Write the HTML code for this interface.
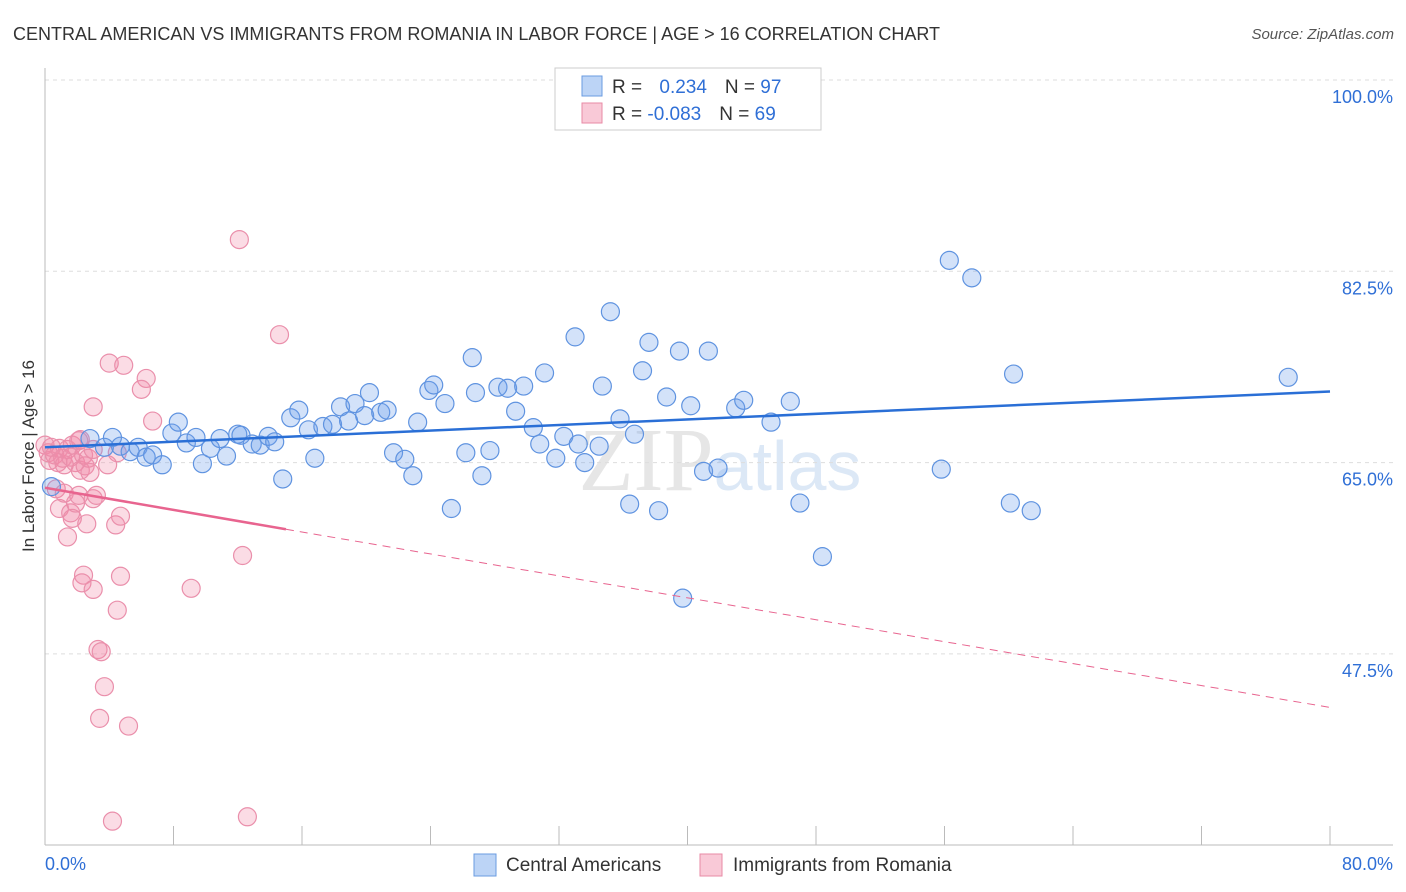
<!DOCTYPE html>
<html><head><meta charset="utf-8"><style>
body{margin:0;background:#fff;font-family:"Liberation Sans",sans-serif}
</style></head><body>
<svg id="c" width="1406" height="892" xmlns="http://www.w3.org/2000/svg" style="display:block">
<text x="13" y="40" font-size="18" fill="#333">CENTRAL AMERICAN VS IMMIGRANTS FROM ROMANIA IN LABOR FORCE | AGE &gt; 16 CORRELATION CHART</text>
<text x="1394" y="39" font-size="15" fill="#555" text-anchor="end" font-style="italic">Source: ZipAtlas.com</text>
<text x="720" y="490" font-size="90" fill="#e6e6e6" text-anchor="middle" font-family="Liberation Serif">ZIP<tspan fill="#dce8f6" font-family="Liberation Sans" font-size="70">atlas</tspan></text>
<text transform="translate(34,456) rotate(-90)" font-size="17" fill="#333" text-anchor="middle">In Labor Force | Age &gt; 16</text>
<g id="grid"></g><g id="pts"></g><g id="lines"></g>
<g>
<rect x="555" y="68" width="266" height="62" fill="#fff" stroke="#ccc"/>
<rect x="582" y="76" width="20" height="20" fill="#bcd4f6" stroke="#6a9be0"/>
<rect x="582" y="103" width="20" height="20" fill="#f9c9d7" stroke="#e88aa5"/>
<text x="612" y="93" font-size="19" fill="#333">R = <tspan fill="#2f6fd6" dx="12">0.234</tspan><tspan dx="18">N = </tspan><tspan fill="#2f6fd6">97</tspan></text>
<text x="612" y="120" font-size="19" fill="#333">R = <tspan fill="#2f6fd6">-0.083</tspan><tspan dx="18">N = </tspan><tspan fill="#2f6fd6">69</tspan></text>
</g>
<g>
<rect x="474" y="854" width="22" height="22" fill="#bcd4f6" stroke="#6a9be0"/>
<text x="506" y="871" font-size="19" fill="#333">Central Americans</text>
<rect x="700" y="854" width="22" height="22" fill="#f9c9d7" stroke="#e88aa5"/>
<text x="733" y="871" font-size="19" fill="#333">Immigrants from Romania</text>
</g>
<text x="45" y="870" font-size="18" fill="#2f6fd6">0.0%</text>
<text x="1393" y="870" font-size="18" fill="#2f6fd6" text-anchor="end">80.0%</text>
</svg>
<script>
const yTicks=[100,82.5,65,47.5];
const blueX=[0.4,2.8,4.2,3.7,4.7,5.3,5.8,6.3,6.7,7.3,7.9,8.3,8.8,9.4,9.8,10.3,10.9,11.3,12.0,12.2,12.9,13.4,13.9,14.3,14.8,15.3,15.8,16.4,16.8,17.3,17.9,18.4,18.9,19.3,19.9,20.2,20.9,21.3,21.7,22.4,22.9,23.2,23.9,24.2,24.9,25.3,26.2,26.6,26.8,27.2,27.7,28.2,28.8,29.3,29.8,30.4,30.8,31.1,31.8,32.3,33.0,33.2,33.6,34.5,34.7,35.2,35.8,36.4,36.7,37.2,37.6,38.2,38.7,39.5,39.7,40.2,41.0,41.3,41.9,43.0,43.5,45.2,46.4,47.0,48.4,56.3,55.8,57.7,60.1,60.3,61.4,77.4];
const blueY=[62.8,67.2,67.3,66.4,66.5,66.0,66.4,65.5,65.7,64.8,67.7,68.7,66.8,67.3,64.9,66.3,67.2,65.6,67.6,67.5,66.7,66.6,67.4,66.9,63.5,69.1,69.8,68.0,65.4,68.3,68.5,70.1,68.8,70.4,69.3,71.4,69.6,69.8,65.9,65.3,63.8,68.7,71.6,72.1,70.4,60.8,65.9,74.6,71.4,63.8,66.1,71.9,71.8,69.7,72.0,68.2,66.7,73.2,65.4,67.4,76.5,66.7,65.0,66.5,72.0,78.8,69.0,61.2,67.6,73.4,76.0,60.6,71.0,75.2,52.6,70.2,64.2,75.2,64.5,70.0,70.7,68.7,70.6,61.3,56.4,83.5,64.4,81.9,61.3,73.1,60.6,72.8];
const pinkX=[0.0,0.2,0.3,0.4,0.6,0.8,0.9,1.1,1.2,1.4,1.6,1.7,1.9,2.1,2.2,2.4,2.5,2.7,2.8,3.0,0.7,0.9,1.2,1.6,1.7,1.9,1.4,2.1,2.2,2.6,3.0,3.2,3.9,4.4,4.5,4.7,4.0,4.9,3.0,6.3,6.0,6.7,2.4,2.3,3.0,4.7,4.5,3.3,3.5,3.7,3.4,5.2,4.2,12.6,9.1,12.3,12.1,14.6];
const pinkY=[66.6,65.9,65.2,66.4,65.7,65.0,66.3,65.4,64.8,66.2,65.5,66.6,65.0,67.0,64.3,65.7,64.7,65.4,64.1,66.2,62.6,60.8,62.2,60.4,59.9,61.3,58.2,62.0,67.1,59.4,61.7,62.0,64.8,59.3,65.9,60.1,74.1,73.9,70.1,72.7,71.7,68.8,54.7,54.0,53.4,54.6,51.5,47.9,47.7,44.5,41.6,40.9,32.2,32.6,53.5,56.5,85.4,76.7];
const blueLine=[[0,66.4],[80,71.5]];
const pinkLine=[[0,62.7],[15,58.9],[80,42.6]];
const X0=45,X1=1330,Y100=80,PPU=191.3/17.5;
const xs=v=>X0+(v/80)*(X1-X0);
const ys=v=>Y100+(100-v)*PPU;
const NS="http://www.w3.org/2000/svg";
function mk(tag,attrs,parent){const e=document.createElementNS(NS,tag);for(const k in attrs)e.setAttribute(k,attrs[k]);parent.appendChild(e);return e;}
const grid=document.getElementById('grid');
yTicks.forEach(t=>{
 const l=mk('line',{x1:X0,x2:1393,y1:ys(t),y2:ys(t),stroke:'#ddd','stroke-dasharray':'4,4'},grid);
 
 
 const tx=mk('text',{x:1393,y:ys(t)+23,'font-size':18,fill:'#2f6fd6','text-anchor':'end'},grid);
 tx.textContent=t.toFixed(1)+'%';
 
 
});
const ax=mk('line',{x1:X0,x2:X0,y1:68,y2:845,stroke:'#bbb'},grid);


const bx=mk('line',{x1:X0,x2:1393,y1:845,y2:845,stroke:'#bbb'},grid);


for(let i=0;i<=10;i++){const t=mk('line',{x1:xs(i*8),x2:xs(i*8),y1:826,y2:845,stroke:'#bbb'},grid);
 
 }
const pts=document.getElementById('pts');
pinkX.forEach((v,i)=>{const c=mk('circle',{cx:xs(v),cy:ys(pinkY[i]),r:9,fill:'rgba(242,140,170,0.3)',stroke:'#ea8fab','stroke-width':1.2},pts);
 
 });
blueX.forEach((v,i)=>{const c=mk('circle',{cx:xs(v),cy:ys(blueY[i]),r:9,fill:'rgba(110,160,235,0.3)',stroke:'#5f93e0','stroke-width':1.2},pts);
 
 });
const lg=document.getElementById('lines');
const bl=mk('line',{x1:xs(blueLine[0][0]),y1:ys(blueLine[0][1]),x2:xs(blueLine[1][0]),y2:ys(blueLine[1][1]),stroke:'#2a6fd6','stroke-width':2.5},lg);


const pl=mk('line',{x1:xs(pinkLine[0][0]),y1:ys(pinkLine[0][1]),x2:xs(pinkLine[1][0]),y2:ys(pinkLine[1][1]),stroke:'#e8648f','stroke-width':2.5},lg);


const pd=mk('line',{x1:xs(pinkLine[1][0]),y1:ys(pinkLine[1][1]),x2:xs(pinkLine[2][0]),y2:ys(pinkLine[2][1]),stroke:'#e8648f','stroke-width':1,'stroke-dasharray':'8,6'},lg);


</script>
</body></html>
